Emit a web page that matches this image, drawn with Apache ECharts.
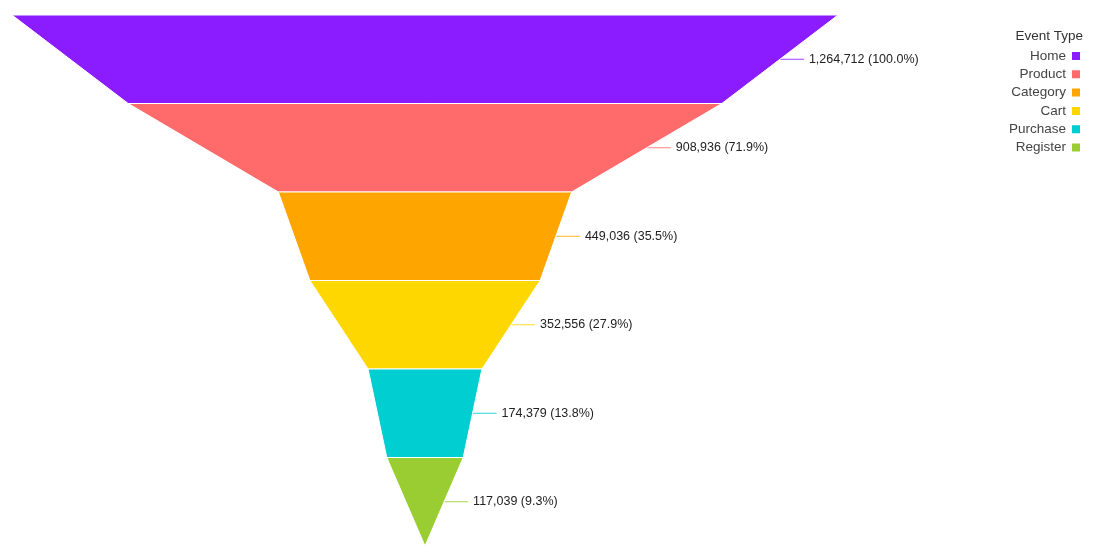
<!DOCTYPE html>
<html>
<head>
<meta charset="utf-8">
<script src="https://cdn.jsdelivr.net/npm/echarts@6/dist/echarts.min.js"></script>
<style>
  html, body { margin: 0; padding: 0; background: #fff; }
  #chart { width: 1100px; height: 559px; }
</style>
</head>
<body>
<div id="chart"></div>
<script>
// 漏斗数据
var categories = ['Home', 'Product', 'Category', 'Cart', 'Purchase', 'Register'];
var counts = [1264712, 908936, 449036, 352556, 174379, 117039];
var colors = ['#8a1cff', '#ff6b6b', '#ffa500', '#ffd700', '#00ced1', '#9acd32'];

var chart = echarts.init(document.getElementById('chart'));
var topValue = counts[0];

var option = {
    animation: false,
    title: {
        text: 'Event Type',
        right: 12,
        top: 24,
        textStyle: { fontSize: 13.5, fontWeight: 'normal', color: '#333', fontFamily: 'Helvetica, Arial, sans-serif' }
    },
    legend: {
        orient: 'vertical',
        right: 13,
        top: 44,
        align: 'right',
        icon: 'rect',
        itemWidth: 10,
        itemHeight: 10,
        itemGap: 4.3,
        textStyle: { fontSize: 13.5, color: '#444', fontFamily: 'Helvetica, Arial, sans-serif' },
        data: categories
    },
    color: colors,
    series: [{
        type: 'funnel',
        left: 12,
        top: 15,
        width: 826,
        height: 531,
        min: 0,
        max: topValue,
        minSize: '0%',
        maxSize: '100%',
        sort: 'none',
        gap: 0,
        itemStyle: { borderColor: '#fff', borderWidth: 1 },
        label: {
            show: true,
            position: 'right',
            color: '#222',
            fontSize: 12.5,
            distance: 8,
            fontFamily: 'Helvetica, Arial, sans-serif',
            formatter: function (p) {
                return p.value.toLocaleString('en-US') + ' (' + (p.value / topValue * 100).toFixed(1) + '%)';
            }
        },
        labelLine: { length: 24, lineStyle: { width: 1, opacity: 0.85 } },
        emphasis: { disabled: true },
        data: categories.map(function (c, i) {
            return { name: c, value: counts[i] };
        })
    }]
};
chart.setOption(option);
</script>
</body>
</html>
